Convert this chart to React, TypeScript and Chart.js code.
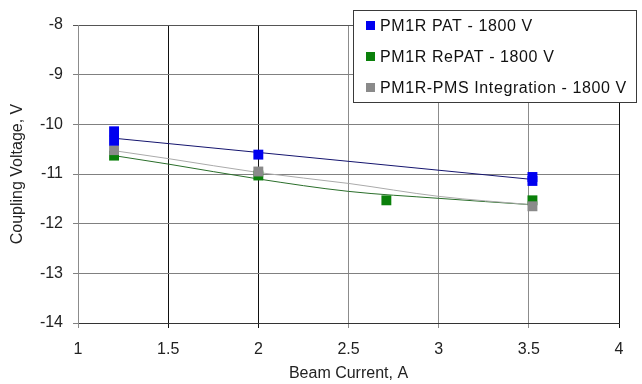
import React, { useEffect, useRef } from 'react';
import { Chart, registerables } from 'chart.js';

Chart.register(...registerables);

// ---- data ----
const seriesNames = ['PM1R PAT - 1800 V', 'PM1R RePAT - 1800 V', 'PM1R-PMS Integration - 1800 V'];

const patX = [1.2, 1.2, 2, 3.52, 3.52];
const patY = [-10.14, -10.33, -10.61, -11.06, -11.14];

const rePatX = [1.2, 2, 2.71, 3.52];
const rePatY = [-10.63, -11.03, -11.53, -11.53];

const pmsX = [1.2, 2, 3.52];
const pmsY = [-10.52, -10.95, -11.65];

// trend lines
const patTrendX = [1.2, 3.52];
const patTrendY = [-10.28, -11.11];
const rePatTrendX = [1.2, 1.5, 2, 2.5, 3, 3.52];
const rePatTrendY = [-10.63, -10.8, -11.1, -11.35, -11.49, -11.62];
const pmsTrendX = [1.2, 1.5, 2, 2.5, 3, 3.52];
const pmsTrendY = [-10.53, -10.69, -10.97, -11.19, -11.45, -11.62];

const xTicks = [1, 1.5, 2, 2.5, 3, 3.5, 4];
const yTicks = [-8, -9, -10, -11, -12, -13, -14];

const markerColors = ['#0000f0', '#0a800a', '#8a8a8a'];
const trendColors = ['#14146e', '#2a6e2a', '#aaaaaa'];

const FONT = '"Liberation Sans", Arial, sans-serif';

const zip = (xs: number[], ys: number[]) => xs.map((x, i) => ({ x, y: ys[i] }));

const legendPlugin = {
  id: 'boxLegend',
  afterDraw(chart: any) {
    const ctx = chart.ctx as CanvasRenderingContext2D;
    ctx.save();
    const x0 = 353, y0 = 10, w = 283, h = 92;
    ctx.fillStyle = '#ffffff';
    ctx.fillRect(x0, y0, w, h);
    ctx.strokeStyle = '#3a3a3a';
    ctx.lineWidth = 1;
    ctx.strokeRect(x0 + 0.5, y0 + 0.5, w, h);
    ctx.font = `16px ${FONT}`;
    (ctx as any).letterSpacing = '0.6px';
    ctx.textBaseline = 'middle';
    ctx.textAlign = 'left';
    seriesNames.forEach((name, i) => {
      const cy = 25.5 + i * 31;
      ctx.fillStyle = markerColors[i];
      ctx.fillRect(366, cy - 4.5, 9, 9);
      ctx.fillStyle = '#111111';
      ctx.fillText(name, 380, cy + 1);
    });
    ctx.restore();
  },
};

export default function App() {
  const ref = useRef<HTMLCanvasElement>(null);
  useEffect(() => {
    const xGrid: Record<string, string> = {
      '1': '#8c8c8c', '1.5': '#111111', '2': '#111111', '2.5': '#8c8c8c',
      '3': '#8c8c8c', '3.5': '#8c8c8c', '4': '#111111',
    };
    const marker = (i: number, data: any, order: number) => ({
      label: seriesNames[i],
      data,
      backgroundColor: markerColors[i],
      borderColor: markerColors[i],
      pointStyle: 'rect',
      pointRadius: 7,
      borderWidth: 0,
      order,
    });
    const chart = new Chart(ref.current!, {
      type: 'scatter',
      data: {
        datasets: [
          marker(0, zip(patX, patY), 1),
          marker(1, zip(rePatX, rePatY), 3),
          marker(2, zip(pmsX, pmsY), 2),
          {
            label: 'trend0',
            data: zip(patTrendX, patTrendY),
            showLine: true,
            borderColor: trendColors[0],
            borderWidth: 1,
            pointRadius: 0,
            order: 10,
          },
          {
            label: 'trend1',
            data: zip(rePatTrendX, rePatTrendY),
            showLine: true,
            borderColor: trendColors[1],
            borderWidth: 1,
            pointRadius: 0,
            tension: 0.4,
            cubicInterpolationMode: 'monotone',
            order: 10,
          },
          {
            label: 'trend2',
            data: zip(pmsTrendX, pmsTrendY),
            showLine: true,
            borderColor: trendColors[2],
            borderWidth: 1,
            pointRadius: 0,
            tension: 0.4,
            cubicInterpolationMode: 'monotone',
            order: 9,
          },
        ] as any,
      },
      options: {
        animation: false,
        responsive: true,
        maintainAspectRatio: false,
        layout: { padding: { top: 25, right: 23, left: 0, bottom: 0 } },
        plugins: { legend: { display: false }, tooltip: { enabled: false } },
        scales: {
          x: {
            type: 'linear',
            min: 1,
            max: 4,
            afterBuildTicks: (s: any) => { s.ticks = xTicks.map((v) => ({ value: v })); },
            afterFit: (s: any) => { s.height = 61; },
            grid: {
              color: (c: any) => xGrid[String(c.tick?.value)] ?? '#8c8c8c',
              lineWidth: 1,
              tickLength: 5,
            },
            border: { color: '#333333', width: 1 },
            ticks: {
              font: { family: FONT, size: 16 },
              color: '#222222',
              padding: 12,
              maxRotation: 0,
              callback: (v: any) => String(v),
            },
            title: {
              display: true,
              text: 'Beam Current, A',
              font: { family: FONT, size: 16 },
              color: '#222222',
              padding: { top: 0, bottom: 1 },
            },
          },
          y: {
            type: 'linear',
            min: -14,
            max: -8,
            afterBuildTicks: (s: any) => { s.ticks = yTicks.map((v) => ({ value: v })); },
            afterFit: (s: any) => { s.width = 78; },
            grid: {
              color: (c: any) => (c.tick?.value === -8 ? '#555555' : '#808080'),
              lineWidth: 1,
              tickLength: 5,
            },
            border: { color: '#8c8c8c', width: 1 },
            ticks: {
              font: { family: FONT, size: 16 },
              color: '#222222',
              padding: 10,
              callback: (v: any) => String(v),
            },
            title: {
              display: true,
              text: 'Coupling Voltage, V',
              font: { family: FONT, size: 16 },
              color: '#222222',
              padding: { top: 8, bottom: 0 },
            },
          },
        },
      },
      plugins: [legendPlugin],
    });
    return () => chart.destroy();
  }, []);
  return (
    <div style={{ position: 'fixed', left: 0, top: 0, width: 642, height: 384, background: '#ffffff' }}>
      <canvas ref={ref} />
    </div>
  );
}
